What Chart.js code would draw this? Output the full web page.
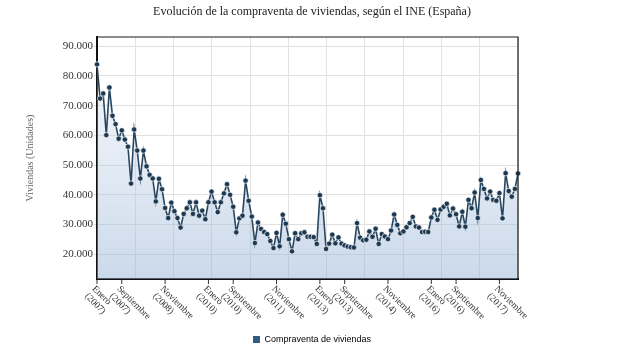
<!DOCTYPE html>
<html lang="es">
<head>
<meta charset="utf-8">
<title>Compraventa de viviendas</title>
<script src="https://cdn.jsdelivr.net/npm/chart.js@4.4.1/dist/chart.umd.min.js"></script>
<style>
    html, body { margin: 0; padding: 0; background: #fff; }
    #wrap { width: 624px; height: 351px; }
</style>
</head>
<body>
<div id="wrap"><canvas id="compraventaChart" width="624" height="351"></canvas></div>
<script>
(function () {
    'use strict';

    var meses = ['Enero', 'Febrero', 'Marzo', 'Abril', 'Mayo', 'Junio', 'Julio',
        'Agosto', 'Septiembre', 'Octubre', 'Noviembre', 'Diciembre'];
    var anios = [2007, 2008, 2009, 2010, 2011, 2012, 2013, 2014, 2015, 2016, 2017, 2018];

    // Compraventas mensuales (unidades), enero 2007 - mayo 2018
    var compraventas = [
        83900, 72400, 74100, 60100, 76100, 66600, 63800, 58900, 61700, 58600, 56200, 43800,
        62000, 54900, 45500, 54900, 49600, 46700, 45500, 37800, 45400, 41900, 35600, 32200,
        37400, 34500, 32200, 29000, 33600, 35500, 37500, 33600, 37500, 33000, 34700, 31800,
        37500, 41100, 37500, 34200, 37500, 40500, 43600, 40000, 36000, 27400, 32100, 33000,
        44800, 38000, 32700, 23800, 30700, 28500, 27500, 26800, 24500, 22100, 27200, 22700,
        33300, 30300, 25100, 21000, 27100, 25100, 27100, 27400, 25900, 25900, 25800, 23500,
        39900, 35500, 21800, 23600, 26600, 23700, 25700, 23600, 23000, 22600, 22400, 22300,
        30500, 25600, 24700, 24900, 27700, 25900, 28600, 23500, 26800, 26000, 25100, 28000,
        33400, 29900, 27100, 27700, 29100, 30500, 32600, 29400, 29000, 27500, 27600, 27500,
        32400, 35000, 31600, 35100, 36000, 37000, 33100, 35400, 33500, 29400, 34300, 29300,
        38300, 35500, 40800, 32200, 45000, 42000, 38800, 41100, 38300, 38000, 40600, 32100,
        47300, 41300, 39400, 42000, 47200
    ];

    var xTickLabels = [
        'Enero (2007)', 'Septiembre (2007)', 'Noviembre (2008)', 'Enero (2010)',
        'Septiembre (2010)', 'Noviembre (2011)', 'Enero (2013)', 'Septiembre (2013)',
        'Noviembre (2014)', 'Enero (2016)', 'Septiembre (2016)', 'Noviembre (2017)'
    ];
    var yTicks = [20000, 30000, 40000, 50000, 60000, 70000, 80000, 90000];

    var categorias = [];
    anios.forEach(function (a) {
        meses.forEach(function (m) {
            if (categorias.length < compraventas.length) categorias.push(m + ' (' + a + ')');
        });
    });

    var serif = '"Liberation Serif", "Times New Roman", serif';

    function formatMiles(v) {
        return String(v).replace(/\B(?=(\d{3})+(?!\d))/g, '.');
    }

    function fillGradient(context) {
        var area = context.chart.chartArea;
        if (!area) return 'rgba(180, 200, 225, 0.4)';
        var g = context.chart.ctx.createLinearGradient(0, area.top, 0, area.bottom);
        g.addColorStop(0, 'rgba(215, 226, 240, 0.25)');
        g.addColorStop(1, 'rgba(145, 175, 212, 0.48)');
        return g;
    }

    var frameAndLabels = {
        id: 'frameAndLabels',
        afterDraw: function (chart) {
            var ctx = chart.ctx;
            var area = chart.chartArea;
            var xs = chart.scales.x;

            ctx.save();
            ctx.strokeStyle = '#1a1a1a';
            ctx.lineWidth = 1.2;
            ctx.beginPath();
            ctx.moveTo(area.left, area.top);
            ctx.lineTo(area.right, area.top);
            ctx.lineTo(area.right, area.bottom);
            ctx.stroke();

            ctx.font = '9.5px ' + serif;
            ctx.fillStyle = '#333';
            ctx.strokeStyle = '#333';
            ctx.lineWidth = 1;
            ctx.textAlign = 'left';
            ctx.textBaseline = 'top';
            xTickLabels.forEach(function (lbl) {
                var idx = categorias.indexOf(lbl);
                if (idx < 0) return;
                var x = xs.getPixelForValue(idx);
                ctx.beginPath();
                ctx.moveTo(x, area.bottom + 1);
                ctx.lineTo(x, area.bottom + 5);
                ctx.stroke();
                var parts = lbl.split(' ');
                ctx.save();
                ctx.translate(x, area.bottom + 5);
                ctx.rotate(Math.PI / 4);
                ctx.fillText(parts[0], 0, 0);
                ctx.fillText(parts[1], 0, 10.5);
                ctx.restore();
            });
            ctx.restore();
        }
    };

    function renderChart() {
        var canvas = document.getElementById('compraventaChart');
        if (!canvas || typeof Chart === 'undefined') return false;

        new Chart(canvas, {
            type: 'line',
            data: {
                labels: categorias,
                datasets: [{
                    label: 'Compraventa de viviendas',
                    data: compraventas,
                    borderColor: '#28475f',
                    borderWidth: 1.6,
                    backgroundColor: fillGradient,
                    fill: 'start',
                    tension: 0,
                    pointRadius: 2.7,
                    pointBackgroundColor: '#1c3954',
                    pointBorderColor: 'rgba(255, 255, 255, 0.85)',
                    pointBorderWidth: 0.8
                }]
            },
            options: {
                responsive: false,
                animation: false,
                layout: { padding: 0 },
                scales: {
                    x: {
                        type: 'category',
                        offset: false,
                        grid: { display: false },
                        border: { color: '#111', width: 2 },
                        ticks: { display: false },
                        afterFit: function (scale) { scale.height = 50; }
                    },
                    xg: {
                        type: 'linear',
                        position: 'bottom',
                        min: 0,
                        max: 11,
                        ticks: { display: false, stepSize: 1 },
                        grid: { color: '#e2e2e2', lineWidth: 1, drawTicks: false },
                        border: { display: false },
                        afterFit: function (scale) { scale.height = 0; }
                    },
                    y: {
                        min: 11700,
                        max: 93100,
                        afterBuildTicks: function (axis) {
                            axis.ticks = yTicks.map(function (v) { return { value: v }; });
                        },
                        afterFit: function (scale) { scale.width = 97; },
                        grid: { color: '#e0e0e0', lineWidth: 1, tickLength: 3 },
                        border: { color: '#111', width: 2 },
                        ticks: {
                            padding: 1,
                            color: '#333',
                            font: { family: serif, size: 11 },
                            callback: function (value) { return formatMiles(value); }
                        },
                        title: {
                            display: true,
                            text: 'Viviendas (Unidades)',
                            color: '#666',
                            padding: { top: 24, bottom: 0 },
                            font: { family: serif, size: 10 }
                        }
                    },
                    margenDerecho: {
                        type: 'linear',
                        position: 'right',
                        min: 0,
                        max: 1,
                        grid: { display: false },
                        border: { display: false },
                        ticks: { display: false },
                        afterFit: function (scale) { scale.width = 106; }
                    }
                },
                plugins: {
                    title: {
                        display: true,
                        text: 'Evolución de la compraventa de viviendas, según el INE (España)',
                        color: '#222',
                        font: { family: serif, size: 12, weight: 'normal' },
                        padding: { top: 5, bottom: 17.6 }
                    },
                    legend: {
                        position: 'bottom',
                        maxHeight: 22,
                        labels: {
                            boxWidth: 7,
                            boxHeight: 7,
                            padding: 6,
                            color: '#333',
                            font: { family: '"Liberation Sans", Arial, sans-serif', size: 9 },
                            generateLabels: function () {
                                return [{
                                    text: 'Compraventa de viviendas',
                                    fillStyle: '#2f5b82',
                                    strokeStyle: '#2f5b82',
                                    lineWidth: 0,
                                    hidden: false,
                                    datasetIndex: 0
                                }];
                            }
                        }
                    },
                    tooltip: { enabled: false }
                }
            },
            plugins: [frameAndLabels]
        });
        return true;
    }

    if (document.readyState === 'loading') {
        document.addEventListener('DOMContentLoaded', renderChart);
    } else {
        renderChart();
    }
})();
</script>
</body>
</html>
